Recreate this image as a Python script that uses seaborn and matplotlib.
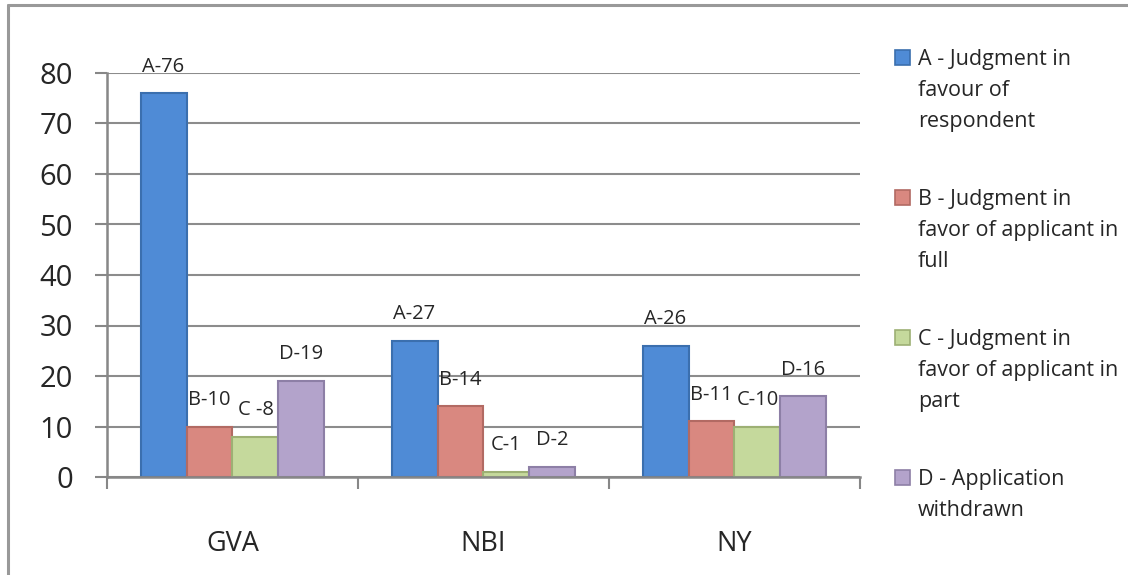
import numpy as np
import pandas as pd
import matplotlib
matplotlib.use("Agg")
import matplotlib.pyplot as plt
import seaborn as sns
from matplotlib.patches import Rectangle
from matplotlib.lines import Line2D

# ===== data =====
sites = ["GVA", "NBI", "NY"]
outcome_codes = ["A", "B", "C", "D"]
counts_a = [76, 27, 26]
counts_b = [10, 14, 11]
counts_c = [8, 1, 10]
counts_d = [19, 2, 16]
bar_texts = [
    ["A-76", "A-27", "A-26"],
    ["B-10", "B-14", "B-11"],
    ["C -8", "C-1", "C-10"],
    ["D-19", "D-2", "D-16"],
]
legend_labels = [
    "A - Judgment in\nfavour of\nrespondent",
    "B - Judgment in\nfavor of applicant in\nfull",
    "C - Judgment in\nfavor of applicant in\npart",
    "D - Application\nwithdrawn",
]

bar_colors = ["#4F8BD6", "#D98880", "#C5D99C", "#B3A3CB"]
edge_colors = ["#3B6FAE", "#B26A63", "#9DB074", "#8D7FA6"]
axis_gray = "#878787"
grid_gray = "#8C8C8C"

df = pd.DataFrame({
    "site": sites * 4,
    "outcome": np.repeat(outcome_codes, len(sites)),
    "count": counts_a + counts_b + counts_c + counts_d,
})

sns.set_style("white")
plt.rcParams["font.family"] = ["Open Sans", "DejaVu Sans"]

W, H = 1128, 575
fig = plt.figure(figsize=(W / 100, H / 100), dpi=100)
ax = fig.add_axes([107 / W, (H - 477) / H, (860 - 107) / W, (477 - 73) / H])

sns.barplot(data=df, x="site", y="count", hue="outcome", palette=bar_colors,
            width=0.733, saturation=1, errorbar=None, legend=False, ax=ax)

for container, ec, texts in zip(ax.containers, edge_colors, bar_texts):
    for bar in container:
        bar.set_edgecolor(ec)
        bar.set_linewidth(1.5)
    ax.bar_label(container, labels=texts, padding=12, fontsize=14.5)

# axes styling
ax.set_ylim(0, 80)
ax.set_yticks(range(0, 81, 10))
ax.set_xlim(-0.5, 2.5)
ax.set_xticks([-0.5, 0.5, 1.5, 2.5], minor=True)
ax.set_xlabel("")
ax.set_ylabel("")
ax.tick_params(axis="x", which="major", bottom=False, pad=35, labelsize=19.5)
ax.tick_params(axis="x", which="minor", bottom=True, length=8.6, width=1.5,
               color=axis_gray, direction="out")
ax.tick_params(axis="y", left=True, length=8.6, width=1.5, color=axis_gray,
               direction="out", pad=16, labelsize=21)
ax.set_axisbelow(True)
ax.yaxis.grid(True, color=grid_gray, linewidth=1.5)
for side in ["top", "right"]:
    ax.spines[side].set_visible(False)
for side in ["left", "bottom"]:
    ax.spines[side].set_color(axis_gray)
    ax.spines[side].set_linewidth(1.8)

# legend, one entry every 140 px, marker aligned with first line
for i, (lab, fc, ec) in enumerate(zip(legend_labels, bar_colors, edge_colors)):
    y_top = 49 + 140 * i
    fig.add_artist(Rectangle((895 / W, (H - y_top - 16) / H), 15 / W, 15 / H,
                             transform=fig.transFigure, facecolor=fc,
                             edgecolor=ec, linewidth=1.2))
    fig.text(918 / W, 1 - y_top / H, lab, fontsize=15.5, va="top", ha="left",
             linespacing=1.62)

# chart border (top and left edges visible)
fig.add_artist(Line2D([8 / W, 1.0], [1 - 5 / H, 1 - 5 / H], transform=fig.transFigure,
                      color="#999999", linewidth=2.2))
fig.add_artist(Line2D([8 / W, 8 / W], [0.0, 1 - 5 / H], transform=fig.transFigure,
                      color="#999999", linewidth=2.2))

fig.savefig("out.png", dpi=100)
print("Saved: out.png")
